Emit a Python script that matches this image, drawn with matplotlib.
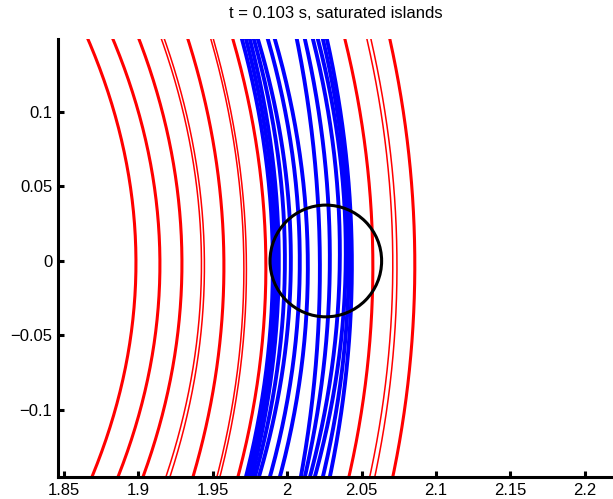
import numpy as np
import matplotlib
matplotlib.use('Agg')
import matplotlib.pyplot as plt
from matplotlib.patches import Circle

plt.rcParams['font.family'] = ['Liberation Sans', 'DejaVu Sans']

# 每条磁力线在三个高度处的径向位置 (上 / 中 / 下)
y_levels = [0.149, 0.0, -0.145]

# 红线: 岛外的磁面 (成对出现的是两条靠得很近的细线)
red_top = [1.8661, 1.8829, 1.9004, 1.9155, 1.9175, 1.9333, 1.9487, 1.9504,
           1.9635, 2.0388, 2.0536, 2.0563, 2.0690]
red_mid = [1.8984, 1.9145, 1.9293, 1.9424, 1.9444, 1.9575, 1.9709, 1.9726,
           1.9857, 2.0576, 2.0710, 2.0738, 2.0858]
red_bot = [1.8688, 1.8863, 1.9031, 1.9185, 1.9212, 1.9367, 1.9528, 1.9548,
           1.9669, 2.0415, 2.0555, 2.0589, 2.0710]
red_thin = [False, False, False, True, True, False, True, True,
            False, False, True, True, False]

# 蓝线: 饱和磁岛区域
blue_top = [1.9696, 1.9723, 1.9749, 1.9776, 1.9803, 1.9870, 1.9917,
            2.0065, 2.0119, 2.0173, 2.0206, 2.0240, 2.0267]
blue_mid = [1.9904, 1.9924, 1.9944, 1.9985, 2.0025, 2.0085, 2.0139,
            2.0220, 2.0287, 2.0354, 2.0394, 2.0415, 2.0435]
blue_bot = [1.9723, 1.9743, 1.9763, 1.9783, 1.9810, 1.9884, 1.9951,
            2.0092, 2.0119, 2.0153, 2.0186, 2.0240, 2.0287]

# 观测区域 (圆)
circle_x, circle_y, circle_r = 2.026, 0.0, 0.0375

xticks = [1.85, 1.9, 1.95, 2.0, 2.05, 2.1, 2.15, 2.2]
xtick_labels = ['1.85', '1.9', '1.95', '2', '2.05', '2.1', '2.15', '2.2']
yticks = [-0.1, -0.05, 0.0, 0.05, 0.1]
ytick_labels = ['\u22120.1', '\u22120.05', '0', '0.05', '0.1']


def field_line(top, mid, bot):
    # 过三个点的二次曲线 x(y)
    c = np.polyfit(y_levels, [top, mid, bot], 2)
    yy = np.linspace(-0.16, 0.16, 200)
    return np.polyval(c, yy), yy


fig = plt.figure(figsize=(6.13, 4.99), dpi=100)
ax = fig.add_axes([0.0946, 0.0441, 0.9054, 0.8778])

for t, m, b, thin in zip(red_top, red_mid, red_bot, red_thin):
    x, y = field_line(t, m, b)
    ax.plot(x, y, color='#ff0000', lw=1.1 if thin else 2.2, solid_capstyle='butt')

for t, m, b in zip(blue_top, blue_mid, blue_bot):
    x, y = field_line(t, m, b)
    ax.plot(x, y, color='#0000ff', lw=2.8)

ax.add_patch(Circle((circle_x, circle_y), circle_r, fill=False,
                    edgecolor='black', lw=2.2, zorder=5))

ax.set_xlim(1.846, 2.219)
ax.set_ylim(-0.145, 0.149)
ax.set_xticks(xticks)
ax.set_xticklabels(xtick_labels)
ax.set_yticks(yticks)
ax.set_yticklabels(ytick_labels)

for s in ['top', 'right']:
    ax.spines[s].set_visible(False)
for s in ['left', 'bottom']:
    ax.spines[s].set_linewidth(2.2)
ax.tick_params(direction='in', length=4, width=2.2, labelsize=12, pad=4)

ax.set_title('t = 0.103 s, saturated islands', fontsize=12, pad=15)

plt.savefig('out.png', dpi=100)
